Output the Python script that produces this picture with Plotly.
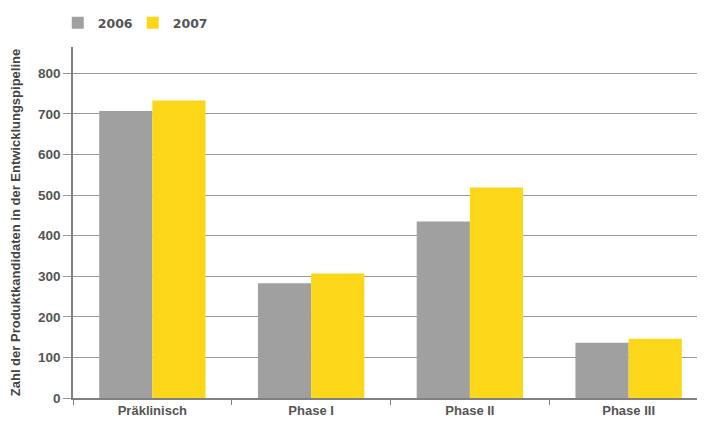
import plotly.graph_objects as go

categories = ["Präklinisch", "Phase I", "Phase II", "Phase III"]
values_2006 = [707, 283, 435, 136]
values_2007 = [733, 307, 519, 146]
y_ticks = [0, 100, 200, 300, 400, 500, 600, 700, 800]

fig = go.Figure()
fig.add_trace(go.Bar(name="2006", x=categories, y=values_2006, marker_color="#a0a0a0", marker_line_width=0))
fig.add_trace(go.Bar(name="2007", x=categories, y=values_2007, marker_color="#fcd619", marker_line_width=0))

font = "Liberation Sans, Arial, sans-serif"
fig.update_layout(
    width=700, height=413,
    barmode="group", bargap=0.33, bargroupgap=0,
    plot_bgcolor="white", paper_bgcolor="white",
    margin=dict(l=65, r=0, t=37, b=23),
    font=dict(family=font, size=12, color="#555"),
    legend=dict(orientation="h", x=-0.024, xanchor="left", y=1.025, yanchor="bottom",
                font=dict(family="DejaVu Sans", size=12.5, color="#555", weight="bold"),
                entrywidth=30, itemwidth=30, traceorder="normal"),
    xaxis=dict(showgrid=False, showline=True, linecolor="#808080", linewidth=1.5,
               ticks="outside", tickson="boundaries", ticklen=5, tickcolor="#808080",
               tickfont=dict(size=13, color="#555", weight="bold"), zeroline=False),
    yaxis=dict(range=[0, 865], tickvals=y_ticks, showgrid=True, gridcolor="#999", gridwidth=1,
               showline=True, linecolor="#808080", linewidth=1.5, ticks="outside", ticklen=8,
               tickcolor="#999", zeroline=False, tickfont=dict(size=13.5, color="#555", weight="bold"),
               title=dict(text="<b>Zahl der Produktkandidaten in der Entwicklungspipeline</b>",
                          font=dict(size=13, color="#444"), standoff=14)),
)
fig.write_html("out.html")
